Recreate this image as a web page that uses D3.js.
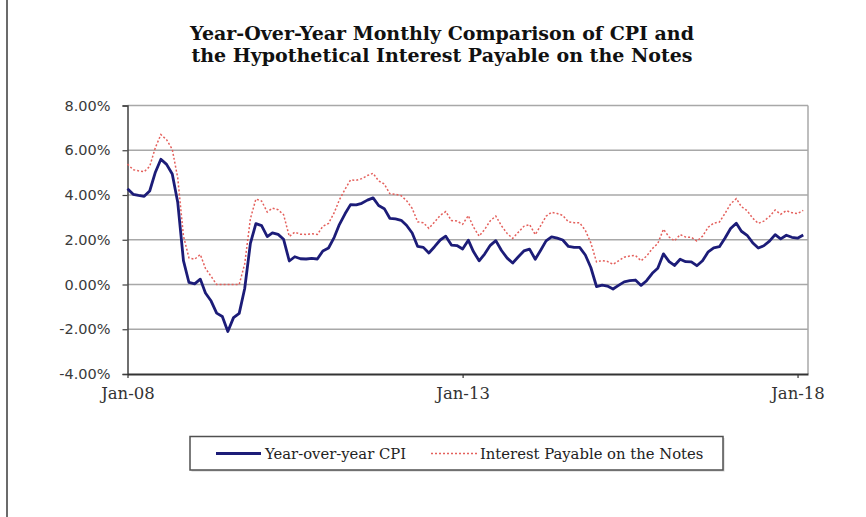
<!DOCTYPE html>
<html>
<head>
<meta charset="utf-8">
<script src="https://cdn.jsdelivr.net/npm/d3@7"></script>
<style>
  html, body { margin: 0; padding: 0; background: #fff; }
  svg { display: block; }
</style>
</head>
<body>
<div id="chart"></div>
<script>
// ---- DATA ----
const startMonth = "2008-01";
// Year-over-year CPI (%), Jan-08 .. Feb-18
const cpi = [
  4.28, 4.03, 3.98, 3.94, 4.18, 5.02, 5.60, 5.37, 4.94, 3.66, 1.07, 0.09,
  0.03, 0.24, -0.38, -0.74, -1.28, -1.43, -2.10, -1.48, -1.29, -0.18, 1.84, 2.72,
  2.63, 2.14, 2.31, 2.24, 2.02, 1.05, 1.24, 1.15, 1.14, 1.17, 1.14, 1.50,
  1.63, 2.11, 2.68, 3.16, 3.57, 3.56, 3.63, 3.77, 3.87, 3.53, 3.39, 2.96,
  2.93, 2.87, 2.65, 2.30, 1.70, 1.66, 1.41, 1.69, 1.99, 2.16, 1.76, 1.74,
  1.59, 1.98, 1.47, 1.06, 1.36, 1.75, 1.96, 1.52, 1.18, 0.96, 1.24, 1.50,
  1.58, 1.13, 1.51, 1.95, 2.13, 2.07, 1.99, 1.70, 1.66, 1.66, 1.32, 0.76,
  -0.09, -0.03, -0.07, -0.20, -0.04, 0.12, 0.17, 0.20, -0.04, 0.17, 0.50, 0.73,
  1.37, 1.02, 0.85, 1.13, 1.02, 1.01, 0.84, 1.06, 1.46, 1.64, 1.69, 2.07,
  2.50, 2.74, 2.38, 2.20, 1.87, 1.63, 1.73, 1.94, 2.23, 2.04, 2.20, 2.11,
  2.07, 2.21
];
// Hypothetical interest payable on the notes (%), Jan-08 .. Feb-18
const interest = [
  5.38, 5.13, 5.08, 5.04, 5.28, 6.12, 6.70, 6.47, 6.04, 4.76, 2.17, 1.19,
  1.13, 1.34, 0.72, 0.36, 0.00, 0.00, 0.00, 0.00, 0.00, 0.92, 2.94, 3.82,
  3.73, 3.24, 3.41, 3.34, 3.12, 2.15, 2.34, 2.25, 2.24, 2.27, 2.24, 2.60,
  2.73, 3.21, 3.78, 4.26, 4.67, 4.66, 4.73, 4.87, 4.97, 4.63, 4.49, 4.06,
  4.03, 3.97, 3.75, 3.40, 2.80, 2.76, 2.51, 2.79, 3.09, 3.26, 2.86, 2.84,
  2.69, 3.08, 2.57, 2.16, 2.46, 2.85, 3.06, 2.62, 2.28, 2.06, 2.34, 2.60,
  2.68, 2.23, 2.61, 3.05, 3.23, 3.17, 3.09, 2.80, 2.76, 2.76, 2.42, 1.86,
  1.01, 1.07, 1.03, 0.90, 1.06, 1.22, 1.27, 1.30, 1.06, 1.27, 1.60, 1.83,
  2.47, 2.12, 1.95, 2.23, 2.12, 2.11, 1.94, 2.16, 2.56, 2.74, 2.79, 3.17,
  3.60, 3.84, 3.48, 3.30, 2.97, 2.73, 2.83, 3.04, 3.33, 3.14, 3.30, 3.21,
  3.17, 3.31
];
const yTicks = [-4, -2, 0, 2, 4, 6, 8];
const xTickLabels = ["Jan-08", "Jan-13", "Jan-18"];
const seriesNames = ["Year-over-year CPI", "Interest Payable on the Notes"];
const titleLines = ["Year-Over-Year Monthly Comparison of CPI and",
                    "the Hypothetical Interest Payable on the Notes"];

// ---- LAYOUT ----
const W = 866, H = 517;
const plot = { left: 127.5, right: 808, top: 105.5, bottom: 374 };
const parse = d3.timeParse("%Y-%m");
const parseTick = d3.timeParse("%b-%y");
const t0 = parse(startMonth);
const dates = cpi.map((_, i) => d3.timeMonth.offset(t0, i));

const svg = d3.select("#chart").append("svg")
  .attr("width", W).attr("height", H);

// outer frame (left edge)
svg.append("line").attr("x1", 7).attr("x2", 7).attr("y1", 0).attr("y2", H)
  .attr("stroke", "#3a3a3a").attr("stroke-width", 1.5);

const x = d3.scaleTime()
  .domain([t0, new Date(2018, 1, 27)])
  .range([plot.left, plot.right]);
const y = d3.scaleLinear().domain([-4, 8]).range([plot.bottom, plot.top]);

// title
const title = svg.append("text")
  .attr("text-anchor", "middle")
  .attr("font-family", "'DejaVu Serif', serif")
  .attr("font-weight", "bold")
  .attr("font-size", 19)
  .attr("fill", "#111");
titleLines.forEach((s, i) => {
  title.append("tspan").attr("x", 442).attr("y", 40 + i * 22).text(s);
});

// gridlines
svg.append("g")
  .selectAll("line")
  .data(yTicks.filter(v => v > -4))
  .join("line")
  .attr("x1", plot.left).attr("x2", plot.right)
  .attr("y1", d => y(d)).attr("y2", d => y(d))
  .attr("stroke", "#a8a8a8").attr("stroke-width", 1.5);

// right border of plot area
svg.append("line")
  .attr("x1", plot.right).attr("x2", plot.right)
  .attr("y1", plot.top).attr("y2", plot.bottom)
  .attr("stroke", "#a8a8a8").attr("stroke-width", 1.5);

// y axis
const pct = v => d3.format(".2f")(v).replace("\u2212", "-") + "%";
const yAxis = svg.append("g")
  .attr("transform", `translate(${plot.left},0)`)
  .call(d3.axisLeft(y).tickValues(yTicks).tickSize(5).tickPadding(12)
    .tickFormat(pct));
yAxis.select(".domain").attr("stroke", "#404040").attr("stroke-width", 1.5);
yAxis.selectAll(".tick line").attr("stroke", "#404040").attr("stroke-width", 1.2);
yAxis.selectAll(".tick text")
  .attr("font-family", "'DejaVu Sans', Verdana, sans-serif")
  .attr("font-size", 14.5)
  .attr("fill", "#3a3a3a");

// x axis
const xAxis = svg.append("g")
  .attr("transform", `translate(0,${plot.bottom})`)
  .call(d3.axisBottom(x).tickValues(xTickLabels.map(parseTick))
    .tickSize(4).tickSizeOuter(0).tickPadding(9)
    .tickFormat(d3.timeFormat("%b-%y")));
xAxis.select(".domain").attr("stroke", "#333").attr("stroke-width", 2);
xAxis.selectAll(".tick line").attr("stroke", "#333").attr("stroke-width", 1.2);
xAxis.selectAll(".tick text")
  .attr("font-family", "'DejaVu Serif', serif")
  .attr("font-size", 16.5)
  .attr("fill", "#333");

// lines
const line = d3.line().x((d, i) => x(dates[i])).y(d => y(d));
svg.append("path").datum(interest)
  .attr("d", line).attr("fill", "none")
  .attr("stroke", "#e4605c").attr("stroke-width", 1.5)
  .attr("stroke-dasharray", "2,2");
svg.append("path").datum(cpi)
  .attr("d", line).attr("fill", "none")
  .attr("stroke", "#1c1c78").attr("stroke-width", 2.8)
  .attr("stroke-linejoin", "round");

// legend
const lg = svg.append("g");
lg.append("rect").attr("x", 191.5).attr("y", 438).attr("width", 533).attr("height", 33.5)
  .attr("fill", "#d0d0d0");
lg.append("rect").attr("x", 190).attr("y", 436.5).attr("width", 533).attr("height", 33.5)
  .attr("fill", "#fff").attr("stroke", "#505050").attr("stroke-width", 1.5);
const legendItems = [
  { name: seriesNames[0], x1: 216, x2: 261, tx: 265, color: "#1c1c78", w: 2.8, dash: null },
  { name: seriesNames[1], x1: 431, x2: 477, tx: 480, color: "#e4605c", w: 1.5, dash: "2,2" }
];
legendItems.forEach(it => {
  lg.append("line").attr("x1", it.x1).attr("x2", it.x2).attr("y1", 453.5).attr("y2", 453.5)
    .attr("stroke", it.color).attr("stroke-width", it.w)
    .attr("stroke-dasharray", it.dash);
  lg.append("text").attr("x", it.tx).attr("y", 458.5)
    .attr("font-family", "'DejaVu Serif', serif")
    .attr("font-size", 14.8).attr("fill", "#222").text(it.name);
});
</script>
</body>
</html>
